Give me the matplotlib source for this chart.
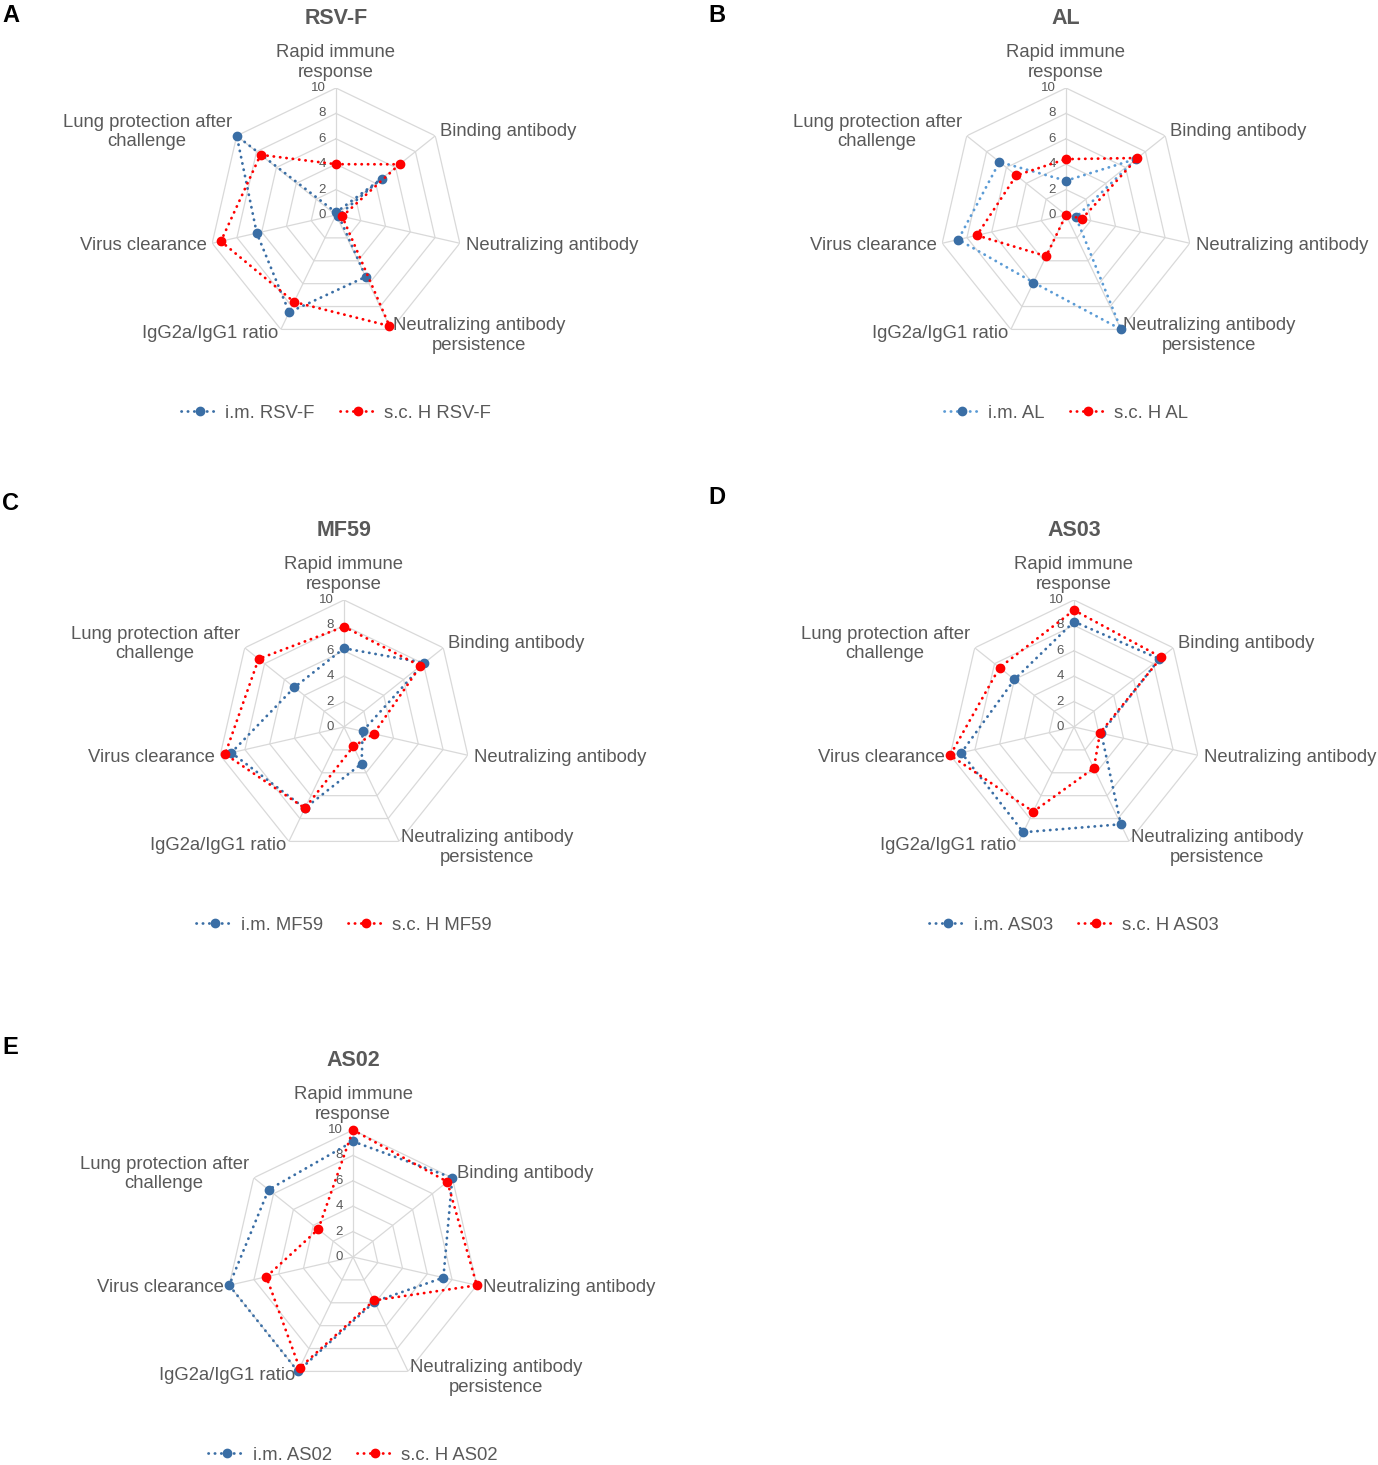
import numpy as np
import matplotlib
matplotlib.use('Agg')
import matplotlib.pyplot as plt

plt.rcParams['font.family'] = ['Liberation Sans', 'DejaVu Sans']

categories = ['Rapid immune\nresponse', 'Binding antibody', 'Neutralizing antibody',
              'Neutralizing antibody\npersistence', 'IgG2a/IgG1 ratio', 'Virus clearance',
              'Lung protection after\nchallenge']
tick_levels = [0, 2, 4, 6, 8, 10]

panel_letters = ['A', 'B', 'C', 'D', 'E']
panel_titles = ['RSV-F', 'AL', 'MF59', 'AS03', 'AS02']
im_labels = ['i.m. RSV-F', 'i.m. AL', 'i.m. MF59', 'i.m. AS03', 'i.m. AS02']
sc_labels = ['s.c. H RSV-F', 's.c. H AL', 's.c. H MF59', 's.c. H AS03', 's.c. H AS02']

im_rsvf = [0.2, 4.6, 0.2, 5.4, 8.5, 6.4, 10.0]
sc_rsvf = [4.0, 6.4, 0.5, 9.7, 7.6, 9.3, 7.6]
im_al = [2.7, 7.1, 0.8, 10.0, 5.9, 8.7, 6.7]
sc_al = [4.4, 7.2, 1.3, 0.0, 3.6, 7.2, 5.0]
im_mf59 = [6.2, 8.1, 1.5, 3.2, 7.1, 9.1, 5.0]
sc_mf59 = [7.9, 7.7, 2.4, 1.7, 7.1, 9.6, 8.6]
im_as03 = [8.3, 8.6, 2.2, 8.5, 9.2, 9.1, 6.0]
sc_as03 = [9.2, 8.8, 2.1, 3.6, 7.4, 10.0, 7.5]
im_as02 = [9.1, 10.0, 7.3, 3.9, 10.0, 10.0, 8.5]
sc_as02 = [10.0, 9.5, 10.0, 3.8, 9.7, 7.0, 3.5]

im_series = [im_rsvf, im_al, im_mf59, im_as03, im_as02]
sc_series = [sc_rsvf, sc_al, sc_mf59, sc_as03, sc_as02]

W, H = 1378, 1465
R = 127  # pixels for value 10
# panel centres in pixels (x, y from top)
centres = [(336, 215), (1066, 215), (344, 727), (1074, 727), (353, 1257)]
letter_pos = [(2, 15), (708, 15), (2, 503), (708, 497), (2, 1047)]

GRAY = '#595959'
GRID = '#D9D9D9'
BLUE = '#3A6EA5'
LIGHT_BLUE = '#5B9BD5'
RED = '#FF0000'

# per-category label placement: ha, va, offset in pixels from outer vertex
label_place = [('center', 'bottom', 0, 7),
               ('left', 'center', 5, 4),
               ('left', 'center', 6, -2),
               ('left', 'center', 2, -6),
               ('right', 'center', -3, -4),
               ('right', 'center', -5, -2),
               ('right', 'center', -5, 4)]

fig = plt.figure(figsize=(W / 100, H / 100), dpi=100)

n = len(categories)
angles = np.arange(n) * 2 * np.pi / n
angles_closed = np.append(angles, angles[0])

for i in range(5):
    cx, cy = centres[i]
    ax = fig.add_axes([(cx - R) / W, (H - cy - R) / H, 2 * R / W, 2 * R / H], projection='polar')
    ax.set_theta_zero_location('N')
    ax.set_theta_direction(-1)
    ax.set_ylim(0, 10)
    ax.grid(False)
    ax.set_xticks([])
    ax.set_yticks([])
    ax.spines['polar'].set_visible(False)
    ax.patch.set_alpha(0)

    # heptagon grid
    for lev in tick_levels[1:]:
        ax.plot(angles_closed, [lev] * (n + 1), color=GRID, lw=0.9, zorder=1)
    for a in angles:
        ax.plot([a, a], [0, 10], color=GRID, lw=0.9, zorder=1)

    for lev in tick_levels:
        ax.annotate(str(lev), xy=(0, lev), xytext=(-10, 0), textcoords='offset pixels',
                    ha='right', va='center', fontsize=9.5, color=GRAY)

    for k, cat in enumerate(categories):
        ha, va, dx, dy = label_place[k]
        ax.annotate(cat, xy=(angles[k], 10), xytext=(dx, dy), textcoords='offset pixels',
                    ha=ha, va=va, multialignment='center', fontsize=13.3, color=GRAY,
                    annotation_clip=False)

    im_line = LIGHT_BLUE if i == 1 else BLUE
    ax.plot(angles_closed, im_series[i] + im_series[i][:1], color=im_line, lw=2.0,
            linestyle=(0, (0.1, 2.2)), dash_capstyle='round', marker='o', ms=6,
            mfc=BLUE, mec=BLUE, markevery=list(range(n)), label=im_labels[i], zorder=3,
            clip_on=False)
    ax.plot(angles_closed, sc_series[i] + sc_series[i][:1], color=RED, lw=2.0,
            linestyle=(0, (0.1, 2.2)), dash_capstyle='round', marker='o', ms=6,
            mfc=RED, mec=RED, markevery=list(range(n)), label=sc_labels[i], zorder=4,
            clip_on=False)

    ax.text(0.5, 0.5 + 197 / (2 * R), panel_titles[i], transform=ax.transAxes,
            ha='center', va='center', fontsize=15.5, fontweight='bold', color=GRAY)

    leg = ax.legend(loc='center', bbox_to_anchor=(0.5, 0.5 - 198 / (2 * R)), ncol=2,
                    frameon=False, fontsize=13.3, handlelength=2.0, handletextpad=0.4,
                    columnspacing=1.35, numpoints=1)
    for t in leg.get_texts():
        t.set_color(GRAY)

    lx, ly = letter_pos[i]
    fig.text(lx / W, 1 - ly / H, panel_letters[i], ha='left', va='center',
             fontsize=17, fontweight='bold', color='black')

fig.savefig('out.png', dpi=100)
